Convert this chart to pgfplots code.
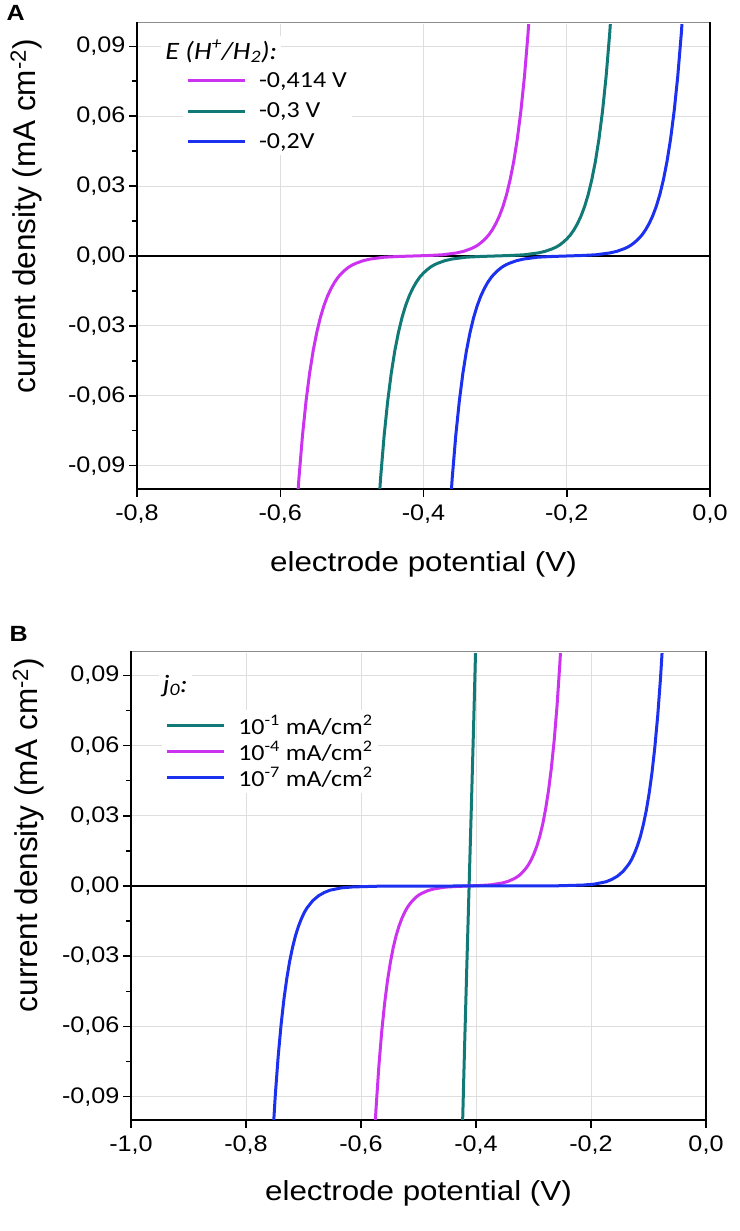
\documentclass[border=0pt]{standalone}
\usepackage{fontspec}
\setmainfont{Liberation Sans}
\newfontfamily\tickfont{Liberation Sans}[FakeStretch=1.12]
\newfontfamily\labfont{Liberation Sans}[FakeStretch=1.14]
\newfontfamily\legfont{Carlito}[FakeStretch=1.13]
\usepackage{pgfplots}
\usepackage{pgfplotstable}
\pgfplotsset{compat=1.18}
\definecolor{cmag}{RGB}{204,51,240}
\definecolor{cteal}{RGB}{18,122,118}
\definecolor{cblue}{RGB}{28,48,240}

% panel A: same j values, three equilibrium potentials
\pgfplotstableread{
j xm xt xb
-0.1186 -0.579 -0.465 -0.365
-0.0957 -0.574 -0.460 -0.360
-0.0772 -0.569 -0.455 -0.355
-0.0623 -0.564 -0.450 -0.350
-0.0503 -0.559 -0.445 -0.345
-0.0406 -0.554 -0.440 -0.340
-0.0328 -0.549 -0.435 -0.335
-0.0264 -0.544 -0.430 -0.330
-0.0213 -0.539 -0.425 -0.325
-0.0172 -0.534 -0.420 -0.320
-0.0139 -0.529 -0.415 -0.315
-0.0112 -0.524 -0.410 -0.310
-0.0090 -0.519 -0.405 -0.305
-0.0073 -0.514 -0.400 -0.300
-0.0059 -0.509 -0.395 -0.295
-0.0047 -0.504 -0.390 -0.290
-0.0038 -0.499 -0.385 -0.285
-0.0031 -0.494 -0.380 -0.280
-0.0020 -0.484 -0.370 -0.270
-0.0013 -0.474 -0.360 -0.260
-0.0005 -0.454 -0.340 -0.240
-0.0002 -0.434 -0.320 -0.220
0 -0.414 -0.300 -0.200
0.0002 -0.394 -0.280 -0.180
0.0005 -0.374 -0.260 -0.160
0.0013 -0.354 -0.240 -0.140
0.0020 -0.344 -0.230 -0.130
0.0031 -0.334 -0.220 -0.120
0.0038 -0.329 -0.215 -0.115
0.0047 -0.324 -0.210 -0.110
0.0059 -0.319 -0.205 -0.105
0.0073 -0.314 -0.200 -0.100
0.0090 -0.309 -0.195 -0.095
0.0112 -0.304 -0.190 -0.090
0.0139 -0.299 -0.185 -0.085
0.0172 -0.294 -0.180 -0.080
0.0213 -0.289 -0.175 -0.075
0.0264 -0.284 -0.170 -0.070
0.0328 -0.279 -0.165 -0.065
0.0406 -0.274 -0.160 -0.060
0.0503 -0.269 -0.155 -0.055
0.0623 -0.264 -0.150 -0.050
0.0772 -0.259 -0.145 -0.045
0.0957 -0.254 -0.140 -0.040
0.1186 -0.249 -0.135 -0.035
}\tableA

% panel B: j0 = 1e-7 curve
\pgfplotstableread{
x j
-0.759 -0.1343
-0.754 -0.1095
-0.749 -0.0892
-0.744 -0.0727
-0.739 -0.0593
-0.734 -0.0483
-0.729 -0.0394
-0.724 -0.0321
-0.719 -0.0262
-0.714 -0.0213
-0.709 -0.0174
-0.704 -0.0142
-0.699 -0.0115
-0.694 -0.0094
-0.684 -0.0063
-0.674 -0.0042
-0.664 -0.0028
-0.654 -0.0018
-0.634 -0.0008
-0.614 -0.0004
-0.564 -0.00005
-0.514 -0.000006
-0.414 0
-0.314 0.000006
-0.264 0.00005
-0.214 0.0004
-0.194 0.0008
-0.174 0.0018
-0.164 0.0028
-0.154 0.0042
-0.144 0.0063
-0.134 0.0094
-0.129 0.0115
-0.124 0.0142
-0.119 0.0174
-0.114 0.0213
-0.109 0.0262
-0.104 0.0321
-0.099 0.0394
-0.094 0.0483
-0.089 0.0593
-0.084 0.0727
-0.079 0.0892
-0.074 0.1095
-0.069 0.1343
}\blueB

% panel B: j0 = 1e-1 curve
\pgfplotstableread{
x j
-0.426 -0.1274
-0.424 -0.1076
-0.420 -0.0700
-0.416 -0.0345
-0.412 0
-0.408 0.0345
-0.404 0.0700
-0.400 0.1076
-0.398 0.1274
}\tealB

\pgfplotsset{
  mystyle/.style={
    scale only axis,
    axis line style={black, line width=2pt},
    tick pos=left,
    tick align=outside,
    major tick length=8pt,
    minor tick length=5pt,
    tick style={black, line width=1.5pt},
    grid=major,
    major grid style={draw=black!13, line width=1pt},
    ymin=-0.1, ymax=0.1,
    ytick={-0.09,-0.06,-0.03,0,0.03,0.06,0.09},
    yticklabels={{-0,09},{-0,06},{-0,03},{0,00},{0,03},{0,06},{0,09}},
    minor ytick={-0.075,-0.045,-0.015,0.015,0.045,0.075},
    scaled ticks=false,
    ticklabel style={font=\tickfont\fontsize{22.5}{22.5}\selectfont},
    xticklabel style={yshift=-4pt},
    xlabel style={font=\labfont\fontsize{27.5}{27.5}\selectfont},
    ylabel style={font=\fontsize{31.5}{31.5}\selectfont},
    legend image code/.code={\draw[##1] (0pt,0pt) -- (57pt,0pt);},
    legend style={draw=none, fill=white,
      font=\legfont\fontsize{23}{23}\selectfont,
      inner xsep=3pt, inner ysep=3pt, row sep=10pt,
      cells={anchor=west},
      /tikz/every odd column/.append style={column sep=11pt}},
    legend cell align=left,
    every axis plot/.append style={line width=3pt, line join=round},
  }
}

\begin{document}
\begin{tikzpicture}
\path[use as bounding box] (0,0) rectangle (739pt,1231pt);

% ---------------- Panel A ----------------
\begin{axis}[mystyle, name=axA,
  at={(137pt,742pt)}, anchor=south west,
  width=573pt, height=466pt,
  xmin=-0.8, xmax=0,
  xtick={-0.8,-0.6,-0.4,-0.2,0},
  xticklabels={{-0,8},{-0,6},{-0,4},{-0,2},{0,0}},
  xlabel={electrode potential (V)},
  ylabel={current density (mA cm\textsuperscript{-2})},
  xlabel style={at={(axis description cs:0.5,-0.178)}, anchor=base},
  ylabel style={at={(axis description cs:-0.178,0.585)}, anchor=base},
  legend style={at={(0.080,0.905)}, anchor=north west},
]
\addplot[black, line width=1.5pt, forget plot] coordinates {(-0.8,0) (0,0)};
\addplot[cmag] table[x=xm, y=j] {\tableA};
\addlegendentry{-0,414 V}
\addplot[cteal] table[x=xt, y=j] {\tableA};
\addlegendentry{-0,3 V}
\addplot[cblue] table[x=xb, y=j] {\tableA};
\addlegendentry{-0,2V}
\node[anchor=base west, fill=white, inner sep=4pt,
  font=\legfont\fontsize{25}{25}\selectfont\itshape]
  at (rel axis cs:0.0420,0.9227) {E (H\textsuperscript{+}/H\textsubscript{2}):};
\end{axis}
\draw[white, line width=3pt] ([xshift=1.2pt]axA.north west) -- ([xshift=-1.2pt]axA.north east);
\draw[black!45, line width=1pt] ([xshift=1pt]axA.north west) -- ([xshift=-1pt]axA.north east);
\node[anchor=base west, font=\labfont\bfseries\fontsize{22}{22}\selectfont] at (3pt,1210pt) {A};

% ---------------- Panel B ----------------
\begin{axis}[mystyle, name=axB,
  at={(131pt,111pt)}, anchor=south west,
  width=575pt, height=468pt,
  xmin=-1, xmax=0,
  xtick={-1,-0.8,-0.6,-0.4,-0.2,0},
  xticklabels={{-1,0},{-0,8},{-0,6},{-0,4},{-0,2},{0,0}},
  xlabel={electrode potential (V)},
  ylabel={current density (mA cm\textsuperscript{-2})},
  xlabel style={at={(axis description cs:0.5,-0.171)}, anchor=base},
  ylabel style={at={(axis description cs:-0.163,0.609)}, anchor=base},
  legend style={at={(0.054,0.877)}, anchor=north west, row sep=1pt},
]
\addplot[black, line width=1.5pt, forget plot] coordinates {(-1,0) (0,0)};
\addplot[cteal] table[x=x, y=j] {\tealB};
\addlegendentry{10\textsuperscript{-1} mA/cm\textsuperscript{2}}
\addplot[cmag] table[x=xm, y=j] {\tableA};
\addlegendentry{10\textsuperscript{-4} mA/cm\textsuperscript{2}}
\addplot[cblue] table[x=x, y=j] {\blueB};
\addlegendentry{10\textsuperscript{-7} mA/cm\textsuperscript{2}}
\node[anchor=base west, fill=white, inner sep=4pt,
  font=\legfont\fontsize{25}{25}\selectfont\itshape]
  at (rel axis cs:0.048,0.9145) {j\textsubscript{0}:};
\end{axis}
\draw[white, line width=3pt] ([xshift=1.2pt]axB.north west) -- ([xshift=-1.2pt]axB.north east);
\draw[black!45, line width=1pt] ([xshift=1pt]axB.north west) -- ([xshift=-1pt]axB.north east);
\node[anchor=base west, font=\labfont\bfseries\fontsize{22}{22}\selectfont] at (6pt,589pt) {B};
\end{tikzpicture}
\end{document}
